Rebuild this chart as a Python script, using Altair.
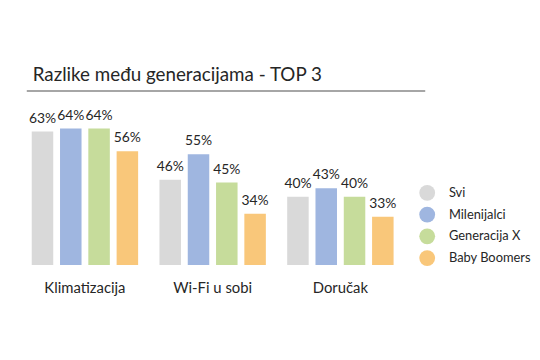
import altair as alt
import pandas as pd

title_text = "Razlike među generacijama - TOP 3"
categories = ["Klimatizacija", "Wi-Fi u sobi", "Doručak"]
series = ["Svi", "Milenijalci", "Generacija X", "Baby Boomers"]
colors = ["#d9d9d9", "#9fb6e0", "#c6dc9b", "#f9c77a"]
values = {
    "Svi": [63, 46, 40],
    "Milenijalci": [64, 55, 43],
    "Generacija X": [64, 45, 40],
    "Baby Boomers": [56, 34, 33],
}

rows = []
for s in series:
    for c, v in zip(categories, values[s]):
        rows.append({"cat": c, "series": s, "value": v})
df = pd.DataFrame(rows)

FONT = "Lato"
TXT = "#262626"

xenc = alt.X("cat:N", sort=categories,
             scale=alt.Scale(range=[24, 390], paddingInner=0.167, paddingOuter=0),
             axis=None)
xoff = alt.XOffset("series:N", sort=series, scale=alt.Scale(paddingInner=0.24))
yscale = alt.Scale(domain=[16, 64], range=[258, 120], zero=False)

base = alt.Chart(df)

bars = base.mark_bar().encode(
    x=xenc,
    xOffset=xoff,
    y=alt.Y("value:Q", scale=yscale, axis=None),
    y2=alt.datum(16),
    color=alt.Color("series:N", sort=series,
                    scale=alt.Scale(domain=series, range=colors),
                    legend=alt.Legend(title=None, orient="none", legendX=416, legendY=177,
                                      symbolType="circle", symbolSize=256,
                                      symbolStrokeWidth=0, symbolOpacity=1,
                                      labelFontSize=13, labelFont=FONT, labelColor=TXT,
                                      labelOffset=14, rowPadding=6, labelLimit=0)),
)

labels = base.mark_text(font=FONT, fontSize=14, color=TXT, dy=-9,
                        baseline="alphabetic").transform_calculate(
    label="datum.value + '%'"
).encode(
    x=xenc,
    xOffset=xoff,
    y=alt.Y("value:Q", scale=yscale, axis=None),
    text="label:N",
)

cat_labels = alt.Chart(pd.DataFrame({"cat": categories})).mark_text(
    font=FONT, fontSize=15, color=TXT, baseline="alphabetic"
).encode(
    x=xenc,
    y=alt.value(286),
    text="cat:N",
)

title = alt.Chart(pd.DataFrame({"t": [title_text]})).mark_text(
    font=FONT, fontSize=19, color=TXT, align="left", baseline="alphabetic"
).encode(x=alt.value(25), y=alt.value(72), text="t:N")

rule = alt.Chart(pd.DataFrame({"a": [0]})).mark_rule(color="#a6a6a6", strokeWidth=2).encode(
    x=alt.value(19), x2=alt.value(422), y=alt.value(82)
)

chart = alt.layer(bars, labels, cat_labels, title, rule).properties(
    width=530, height=344,
    autosize=alt.AutoSizeParams(type="none"),
    padding=0,
).configure_view(stroke=None)

chart.save("out.html", embed_options={"renderer": "svg", "actions": False})
